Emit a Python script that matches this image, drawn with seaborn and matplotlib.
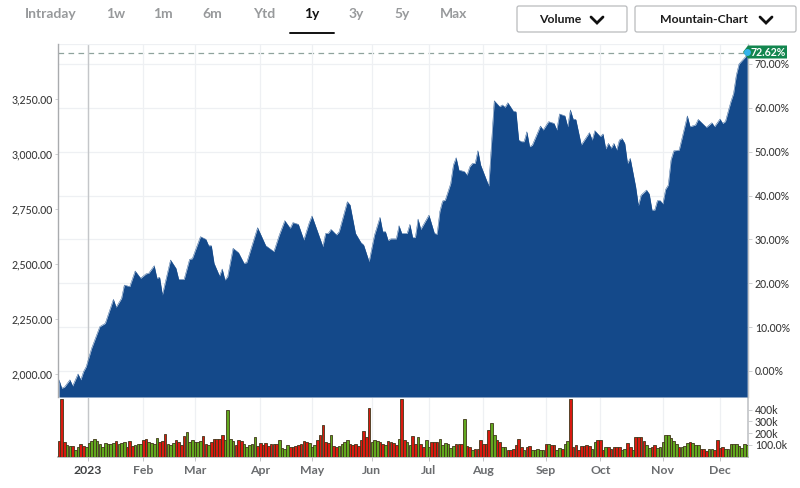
import matplotlib
matplotlib.use("Agg")
import matplotlib.pyplot as plt
from matplotlib.patches import FancyBboxPatch, Polygon
from matplotlib.lines import Line2D
import pandas as pd
import seaborn as sns

sessions = [0,1,2,4,5,7,8,9,10,12,15,17,20,21,23,24,26,28,30,32,33,35,36,37,38,41,43,44,46,48,49,52,54,55,56,57,59,60,61,62,64,66,68,69,73,76,79,81,83,85,86,88,90,92,93,97,98,99,100,102,103,106,107,109,111,112,114,116,118,119,120,121,122,124,125,126,128,129,130,131,132,133,136,138,139,140,141,142,144,145,146,147,149,150,151,152,153,154,155,158,160,162,163,164,165,167,168,169,170,171,172,173,174,177,178,180,182,183,184,186,187,188,189,190,192,195,196,197,199,200,201,202,203,204,205,206,207,208,209,210,212,213,214,216,217,218,219,220,221,222,223,224,225,226,228,231,232,234,235,238,240,241,243,244,245,247,248,249,250,253]
prices = [1973,1935,1940,1973,1945,2000,1973,2010,2033,2117,2215,2230,2339,2303,2344,2404,2397,2468,2435,2455,2458,2492,2435,2439,2359,2518,2480,2430,2430,2521,2524,2624,2612,2583,2583,2503,2445,2477,2427,2442,2571,2551,2503,2506,2665,2583,2556,2632,2697,2662,2688,2680,2609,2688,2718,2579,2639,2639,2657,2632,2647,2783,2768,2639,2597,2586,2510,2632,2712,2647,2647,2606,2614,2614,2674,2639,2639,2680,2620,2620,2704,2657,2722,2639,2635,2738,2786,2790,2866,2950,2983,2927,2920,2904,2942,2957,2957,3015,2950,2854,3242,3215,3223,3212,3233,3195,3192,3063,3056,3056,3101,3033,3040,3127,3109,3147,3139,3109,3182,3173,3124,3200,3159,3157,3041,3097,3063,3106,3079,3091,3023,3048,3026,3048,3018,3063,3070,3048,2957,2980,2851,2765,2813,2836,2818,2745,2745,2788,2788,2773,2839,2859,2973,3014,3018,3173,3124,3132,3157,3121,3142,3124,3159,3139,3148,3238,3276,3358,3409,3450]

volumes_k = [
 128,490,120,100,91,91,57,77,108,91,
 80,114,134,150,134,108,85,114,105,105,
 114,131,108,114,120,80,128,91,100,103,
 105,142,150,125,114,108,154,120,131,194,
 108,100,117,137,120,100,171,205,120,137,
 120,122,134,177,108,100,120,145,145,145,
 180,142,393,148,134,94,137,128,103,80,
 97,108,162,91,114,97,114,90,108,108,
 108,137,71,63,97,80,85,91,100,108,
 131,122,117,80,97,142,182,270,120,114,
 180,91,85,91,108,120,140,108,97,103,
 91,137,214,162,410,120,137,131,120,108,
 97,131,125,114,97,145,490,137,120,97,
 171,108,162,103,85,137,80,120,120,125,
 148,97,114,108,74,91,105,105,105,319,
 88,83,57,68,68,140,105,105,228,285,
 180,140,125,80,80,57,57,66,97,145,
 80,57,80,91,57,57,66,57,57,105,
 105,97,97,57,71,63,108,131,490,80,
 97,57,88,88,97,91,68,120,140,140,
 57,80,77,63,77,80,80,57,68,114,
 80,57,162,162,162,131,97,74,80,97,
 74,80,120,185,180,157,128,108,80,85,
 88,114,122,114,97,97,68,68,45,68,
 63,57,137,74,85,68,68,103,103,103,
 91,74,103,97]
directions = list(
 "RRRGGRGGRR" "GGGGGGGGGG" "GRGGGRRRGG" "GRRGGGGRRR" "GGGRRRRGGG"
 "GGGRRGRRRR" "RGGGGRRRGG" "GGGRRRRRRR" "RGGGGRRRRR" "RRGGGRRRRR"
 "GRRGGGGRRR" "RRRRRGGGRR" "GRRRRGRRGG" "RRGRRGGRRR" "GGGGGGRRRG"
 "RRGRRRRRRG" "GRRGGRRRRR" "RGRRGGGGGR" "GRRGGRGGRR" "RRRRRRGGRR"
 "RGRRRRRGGR" "RGRRRRGGRR" "GGGGGGGGRG" "GGRGGGRRRG" "GRRRRGGGGG" "GGGG")

month_ticks = [10.7,31,50,74,93,115,136,156,179,199,222,243]
month_labels = ["2023","Feb","Mar","Apr","May","Jun","Jul","Aug","Sep","Oct","Nov","Dec"]
price_ticks = [2000,2250,2500,2750,3000,3250]
pct_ticks = [0,10,20,30,40,50,60,70]
vol_ticks = [100,200,300,400]
vol_labels = ["100.0k","200k","300k","400k"]
nav_labels = ["Intraday","1w","1m","6m","Ytd","1y","3y","5y","Max"]
last_pct = 72.62

W, H = 800, 488
FONT = "Lato"
NAVY = "#14498a"
GRID = "#eef0f3"
AXIS = "#c4c6c9"
LABEL = "#3c3c3c"
sns.set_theme(style="white")
plt.rcParams["font.family"] = [FONT, "DejaVu Sans"]

fig = plt.figure(figsize=(W/100, H/100), dpi=100, facecolor="white")
def box(l, t, r, b):
    return [l/W, 1-b/H, (r-l)/W, (b-t)/H]

ax = fig.add_axes(box(58, 44, 748, 397))
vax = fig.add_axes(box(58, 398, 748, 456.5))
XLIM = (-0.37, 253.3)

# price mountain
price_df = pd.DataFrame({"session": sessions, "price": prices})
sns.lineplot(data=price_df, x="session", y="price", color=NAVY, lw=0.3, ax=ax, zorder=2, estimator=None)
ax.fill_between(sessions, prices, 1895, color=NAVY, lw=0, zorder=3)
ax.set_xlim(*XLIM)
ax.set_ylim(1895, 3500)
ax.set_xlabel(""); ax.set_ylabel("")
ax.set_xticks(month_ticks); ax.set_xticklabels([])
ax.set_yticks(price_ticks)
ax.set_yticklabels([f"{v:,.2f}" for v in price_ticks], fontsize=7.6, color=LABEL, fontweight="medium")
ax.tick_params(axis="y", length=2, width=0.6, color=AXIS, pad=2, left=True)
ax.tick_params(axis="x", length=0)
ax.grid(False)
for t in month_ticks:
    ax.axvline(t, color=GRID, lw=0.9, zorder=1)
ax.axvline(month_ticks[0], color=AXIS, lw=1.0, zorder=1)
for s in ["top", "bottom", "right"]:
    ax.spines[s].set_visible(False)
ax.spines["left"].set_color("#a9abae"); ax.spines["left"].set_linewidth(1.0)
ax.axhline(3500, color=GRID, lw=0.9, zorder=1)

# percent axis
pax = ax.twinx()
pax.set_ylim(-5.93, 74.56)
pax.set_yticks(pct_ticks)
pax.set_yticklabels([f"{v:.2f}%" for v in pct_ticks], fontsize=7.6, color=LABEL, fontweight="medium")
pax.tick_params(axis="y", length=3, width=0.6, color=AXIS, pad=2, right=True)
pax.grid(False)
for v in pct_ticks:
    pax.axhline(v, color=GRID, lw=0.9, zorder=1)
for s in ["top", "bottom", "left"]:
    pax.spines[s].set_visible(False)
pax.spines["right"].set_color(AXIS); pax.spines["right"].set_linewidth(1.0)
ax.set_zorder(pax.get_zorder()+1); ax.patch.set_visible(False)

# last value line
pax.axhline(last_pct, color="#8fa39d", lw=0.9, ls=(0, (4.5, 3.5)), zorder=2)

# volume bars
vol_df = pd.DataFrame({"session": range(len(volumes_k)), "volume": volumes_k, "direction": directions})
sns.barplot(data=vol_df, x="session", y="volume", hue="direction", dodge=False, native_scale=True,
            palette={"R": "#d91a10", "G": "#62a81f"}, width=0.96, saturation=1,
            edgecolor="#40361a", linewidth=0.6, legend=False, ax=vax, zorder=3)
vax.set_xlim(*XLIM)
vax.set_ylim(0, 498)
vax.set_xlabel(""); vax.set_ylabel("")
vax.set_xticks(month_ticks)
vax.set_xticklabels(month_labels, fontsize=8.8, color="#6a6c6f", fontweight="bold")
vax.get_xticklabels()[0].set_color("#3f4143")
vax.tick_params(axis="x", length=3, width=0.7, color=AXIS, pad=3, bottom=True)
vax.yaxis.tick_right()
vax.set_yticks(vol_ticks)
vax.set_yticklabels(vol_labels, fontsize=7.6, color=LABEL, fontweight="medium")
vax.tick_params(axis="y", length=3, width=0.6, color=AXIS, pad=2, right=True)
vax.grid(False)
for t in month_ticks:
    vax.axvline(t, color=GRID, lw=0.9, zorder=1)
vax.axvline(month_ticks[0], color=AXIS, lw=1.0, zorder=1)
for s in ["top", "left"]:
    vax.spines[s].set_visible(False)
vax.spines["right"].set_color(AXIS)
vax.spines["bottom"].set_color("#b5b7ba")

# page chrome in pixel coordinates
ov = fig.add_axes([0, 0, 1, 1], zorder=20)
ov.set_xlim(0, W); ov.set_ylim(H, 0); ov.axis("off"); ov.patch.set_visible(False)
nav_x = [51, 116, 163, 212, 264, 312, 356, 402, 454]
for lab, x in zip(nav_labels, nav_x):
    active = lab == "1y"
    ov.text(x, 14.5, lab, ha="center", va="center", fontsize=10, fontweight="bold",
            color="#111111" if active else "#97999b")
ov.add_line(Line2D([290, 334], [33, 33], color="#111111", lw=1.4))
for l, r, lab, tx, cx in [(517, 627, "Volume", 560, 597), (635, 796, "Mountain-Chart", 704, 766)]:
    ov.add_patch(FancyBboxPatch((l, 6), r-l, 26, boxstyle="round,pad=0,rounding_size=2",
                                fc="white", ec="#b9bbbd", lw=0.9))
    ov.text(tx, 19.5, lab, ha="center", va="center", fontsize=8.8, fontweight="bold", color="#1c1c1c")
    ov.add_line(Line2D([cx-6, cx, cx+6], [17, 23, 17], color="#111111", lw=2, solid_joinstyle="miter"))
ov.add_patch(Polygon([(743, 52), (748, 45.5), (787, 45.5), (787, 58.5), (748, 58.5)], closed=True, fc="#13864f", ec="none"))
ov.plot([747], [52], "o", ms=5, color="#35b4ea", mec="none")
ov.text(768, 52.3, "72.62%", ha="center", va="center", fontsize=7.6, fontweight="bold", color="white")

fig.savefig("out.png", dpi=100)
